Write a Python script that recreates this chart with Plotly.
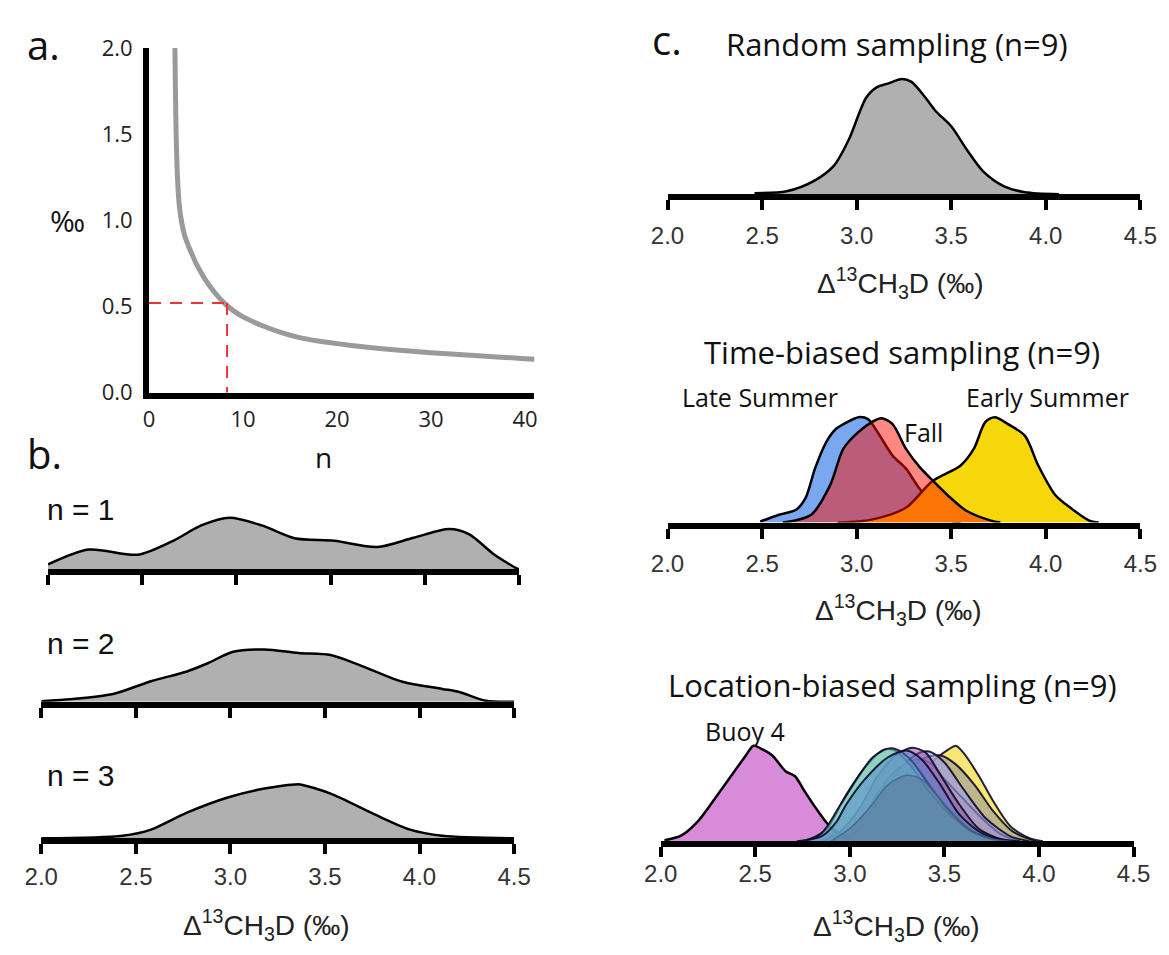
import plotly.graph_objects as go

W, H = 1169, 955

# ---------------- Panel a: precision vs n ----------------
a_n = [2.75, 2.8, 2.85, 2.9, 3.0, 3.1, 3.25, 3.5, 3.8, 4.2, 4.6, 5.0, 5.5, 6, 7, 8, 9, 10, 12, 14,
       16, 18, 20, 23, 26, 30, 35, 40, 41]
a_val = [2.0, 1.78, 1.6, 1.45, 1.28, 1.17, 1.07, 0.98, 0.91, 0.85, 0.80, 0.75, 0.70, 0.655, 0.58,
         0.52, 0.475, 0.44, 0.39, 0.35, 0.32, 0.30, 0.285, 0.265, 0.25, 0.232, 0.215, 0.198, 0.195]
crit_n = 8.3
crit_val = 0.52
a_xticks = [0, 10, 20, 30, 40]
a_yticks = [0.0, 0.5, 1.0, 1.5, 2.0]

# ---------------- Panel b: densities for n = 1, 2, 3 ----------------
b1_x = [2.0, 2.215, 2.478, 2.664, 2.813, 2.963, 3.135, 3.308, 3.52, 3.748, 3.94, 4.13, 4.234, 4.37, 4.49, 4.5]
b1_y = [0.09, 0.38, 0.28, 0.55, 0.85, 1.0, 0.85, 0.60, 0.55, 0.43, 0.61, 0.78, 0.68, 0.28, 0.01, 0.0]
b2_x = [2.0, 2.21, 2.38, 2.58, 2.77, 2.88, 3.01, 3.18, 3.36, 3.53, 3.68, 3.91, 4.12, 4.21, 4.35, 4.5]
b2_y = [0.01, 0.07, 0.15, 0.40, 0.59, 0.75, 0.97, 1.02, 0.95, 0.91, 0.72, 0.39, 0.25, 0.19, 0.02, 0.0]
b3_x = [2.0, 2.43, 2.58, 2.77, 2.99, 3.18, 3.34, 3.37, 3.53, 3.76, 3.95, 4.12, 4.5]
b3_y = [0.0, 0.05, 0.17, 0.50, 0.80, 0.97, 1.05, 1.05, 0.87, 0.47, 0.17, 0.05, 0.0]
b_labels = ["n = 1", "n = 2", "n = 3"]

# ---------------- Panel c: sampling scenarios ----------------
c_ticks = [2.0, 2.5, 3.0, 3.5, 4.0, 4.5]
rand_x = [2.46, 2.63, 2.77, 2.88, 2.96, 3.05, 3.11, 3.16, 3.24, 3.29, 3.36, 3.42, 3.5, 3.58, 3.67, 3.78, 3.89, 4.07]
rand_y = [0.01, 0.03, 0.13, 0.29, 0.56, 0.98, 1.09, 1.12, 1.17, 1.14, 0.99, 0.84, 0.69, 0.46, 0.23, 0.08, 0.02, 0.0]

late_x = [2.49, 2.59, 2.68, 2.73, 2.78, 2.84, 2.89, 2.95, 3.01, 3.06, 3.11, 3.19, 3.26, 3.33, 3.43, 3.5, 3.55]
late_y = [0.01, 0.08, 0.13, 0.25, 0.55, 0.82, 0.95, 1.02, 1.07, 1.05, 0.92, 0.68, 0.55, 0.35, 0.12, 0.02, 0.0]
fall_x = [2.61, 2.76, 2.86, 2.93, 3.01, 3.08, 3.13, 3.19, 3.26, 3.33, 3.40, 3.48, 3.58, 3.71, 3.76]
fall_y = [0.0, 0.08, 0.38, 0.75, 0.92, 1.02, 1.06, 1.0, 0.75, 0.57, 0.43, 0.28, 0.12, 0.02, 0.0]
early_x = [2.9, 3.08, 3.26, 3.40, 3.55, 3.62, 3.68, 3.73, 3.80, 3.89, 3.96, 4.05, 4.13, 4.23, 4.28]
early_y = [0.0, 0.03, 0.15, 0.42, 0.58, 0.75, 1.02, 1.07, 1.0, 0.88, 0.58, 0.28, 0.15, 0.02, 0.0]

buoy4_x = [2.02, 2.11, 2.2, 2.3, 2.39, 2.45, 2.49, 2.53, 2.59, 2.66, 2.71, 2.76, 2.83, 2.9, 3.0, 3.11]
buoy4_y = [0.01, 0.06, 0.21, 0.47, 0.71, 0.87, 0.97, 0.94, 0.87, 0.71, 0.66, 0.51, 0.31, 0.14, 0.02, 0.0]
loc_names = ["Buoy A", "Buoy B", "Buoy C", "Buoy D", "Buoy E", "Buoy F", "Buoy G", "Buoy H"]
loc_x = [
    [3.0, 3.15, 3.25, 3.35, 3.45, 3.52, 3.56, 3.6, 3.68, 3.76, 3.85, 3.95, 4.02],
    [2.95, 3.1, 3.2, 3.3, 3.4, 3.48, 3.56, 3.66, 3.76, 3.86, 3.98],
    [2.9, 3.05, 3.15, 3.25, 3.35, 3.42, 3.5, 3.6, 3.7, 3.8, 3.9],
    [2.95, 3.05, 3.15, 3.25, 3.35, 3.42, 3.5, 3.6, 3.72, 3.85, 3.95],
    [2.85, 2.95, 3.05, 3.15, 3.25, 3.33, 3.4, 3.48, 3.58, 3.68, 3.8, 3.9],
    [2.78, 2.88, 2.98, 3.08, 3.18, 3.24, 3.32, 3.42, 3.55, 3.7, 3.82],
    [2.75, 2.85, 2.95, 3.05, 3.12, 3.2, 3.25, 3.32, 3.42, 3.52, 3.62, 3.72, 3.85],
    [2.72, 2.85, 2.93, 2.98, 3.08, 3.2, 3.3, 3.38, 3.48, 3.58, 3.7, 3.85],
]
loc_y = [
    [0.0, 0.13, 0.37, 0.63, 0.83, 0.93, 0.97, 0.9, 0.67, 0.4, 0.15, 0.03, 0.0],
    [0.0, 0.17, 0.43, 0.7, 0.85, 0.87, 0.78, 0.57, 0.3, 0.1, 0.0],
    [0.0, 0.2, 0.5, 0.73, 0.83, 0.8, 0.63, 0.43, 0.23, 0.07, 0.0],
    [0.0, 0.13, 0.4, 0.7, 0.88, 0.91, 0.8, 0.53, 0.23, 0.05, 0.0],
    [0.0, 0.1, 0.33, 0.67, 0.88, 0.95, 0.9, 0.67, 0.37, 0.13, 0.02, 0.0],
    [0.0, 0.13, 0.47, 0.75, 0.93, 0.92, 0.77, 0.5, 0.23, 0.05, 0.0],
    [0.0, 0.08, 0.37, 0.67, 0.85, 0.94, 0.93, 0.83, 0.57, 0.32, 0.13, 0.04, 0.0],
    [0.0, 0.05, 0.2, 0.37, 0.63, 0.85, 0.92, 0.83, 0.57, 0.27, 0.08, 0.0],
]
loc_colors = ["rgba(246,226,90,0.85)", "rgba(165,160,150,0.7)", "rgba(176,128,112,0.55)",
              "rgba(160,160,240,0.6)", "rgba(150,80,160,0.55)", "rgba(110,185,130,0.55)",
              "rgba(120,205,195,0.6)", "rgba(80,130,210,0.5)"]

inner_x = [2.9, 3.0, 3.1, 3.2, 3.3, 3.38, 3.46, 3.55, 3.65, 3.75, 3.85]
inner_y = [0.0, 0.13, 0.33, 0.57, 0.67, 0.63, 0.47, 0.27, 0.1, 0.02, 0.0]

AXIS_TITLE = "Δ<sup>13</sup>CH<sub>3</sub>D (‰)"


def px_x(p):
    return p / W


def px_y(p):
    return 1 - p / H


fig = go.Figure()
SPL = dict(shape="spline", smoothing=0.8)

# ---------- panel a ----------
fig.add_trace(go.Scatter(x=a_n, y=a_val, mode="lines",
                         line=dict(color="#9a9a9a", width=5, shape="spline", smoothing=0.5),
                         xaxis="x", yaxis="y", hoverinfo="skip"))
fig.add_trace(go.Scatter(x=[0, crit_n], y=[crit_val, crit_val], mode="lines",
                         line=dict(color="#ee3333", width=2, dash="12px,9px"), xaxis="x", yaxis="y"))
fig.add_trace(go.Scatter(x=[crit_n, crit_n], y=[crit_val, 0], mode="lines",
                         line=dict(color="#ee3333", width=2, dash="12px,9px"), xaxis="x", yaxis="y"))

# ---------- panel b ----------
for i, (xs, ys) in enumerate([(b1_x, b1_y), (b2_x, b2_y), (b3_x, b3_y)]):
    k = i + 2
    fig.add_trace(go.Scatter(x=xs, y=ys, mode="lines", fill="tozeroy", fillcolor="#b0b0b0",
                             line=dict(color="black", width=2.5, **SPL),
                             xaxis=f"x{k}", yaxis=f"y{k}"))

# ---------- panel c ----------
fig.add_trace(go.Scatter(x=rand_x, y=rand_y, mode="lines", fill="tozeroy", fillcolor="#b0b0b0",
                         line=dict(color="black", width=2.5, **SPL), xaxis="x5", yaxis="y5"))

fig.add_trace(go.Scatter(x=late_x, y=late_y, mode="lines", fill="tozeroy", fillcolor="#79a7f0",
                         line=dict(color="black", width=2.5, **SPL), xaxis="x6", yaxis="y6"))
fig.add_trace(go.Scatter(x=early_x, y=early_y, mode="lines", fill="tozeroy", fillcolor="#f6d80a",
                         line=dict(color="black", width=2.5, **SPL), xaxis="x6", yaxis="y6"))
fig.add_trace(go.Scatter(x=fall_x, y=fall_y, mode="lines", fill="tozeroy", fillcolor="rgba(255,14,0,0.49)",
                         line=dict(color="black", width=2.5, **SPL), xaxis="x6", yaxis="y6"))

fig.add_trace(go.Scatter(x=buoy4_x, y=buoy4_y, mode="lines", fill="tozeroy", fillcolor="#d88bd9",
                         line=dict(color="black", width=2.5, **SPL), xaxis="x7", yaxis="y7"))
for xs, ys, col in zip(loc_x, loc_y, loc_colors):
    fig.add_trace(go.Scatter(x=xs, y=ys, mode="lines", fill="tozeroy", fillcolor=col,
                             line=dict(color="rgba(10,10,40,0.9)", width=2, **SPL),
                             xaxis="x7", yaxis="y7"))
fig.add_trace(go.Scatter(x=inner_x, y=inner_y, mode="lines", fill="tozeroy", fillcolor="rgba(90,120,150,0.5)",
                         line=dict(color="rgba(60,100,140,0.8)", width=1.5, **SPL),
                         xaxis="x7", yaxis="y7"))

# ---------- axes ----------
layout = dict(
    width=W, height=H, margin=dict(l=0, r=0, t=0, b=0),
    paper_bgcolor="white", plot_bgcolor="rgba(0,0,0,0)", showlegend=False,
)

tickfont_a = dict(family="Open Sans", size=22, color="#222")
layout["xaxis"] = dict(domain=[px_x(136), px_x(533)], range=[0, 41], anchor="y",
                       showline=True, linewidth=6, linecolor="black", showgrid=False, zeroline=False,
                       tickvals=a_xticks, ticks="", tickfont=tickfont_a, ticklabelstandoff=2)
layout["yaxis"] = dict(domain=[px_y(389), px_y(33)], range=[0, 2.0], anchor="x",
                       showline=True, linewidth=6, linecolor="black", showgrid=False, zeroline=False,
                       tickvals=a_yticks, tickformat=".1f", ticks="", tickfont=tickfont_a, ticklabelstandoff=6)

tickfont_bc = dict(family="Liberation Sans", size=24, color="#333")
ctext = [f"{v:.1f}" for v in c_ticks]


def dens_axes(k, xdom, base, top, yr, labels, standoff):
    layout[f"xaxis{k}"] = dict(domain=[px_x(xdom[0]), px_x(xdom[1])], range=[2.0, 4.5], anchor=f"y{k}",
                               showline=True, linewidth=6, linecolor="black", showgrid=False, zeroline=False,
                               tickvals=c_ticks, ticktext=ctext, ticks="outside", ticklen=10, tickwidth=4,
                               tickcolor="black", showticklabels=labels, tickfont=tickfont_bc,
                               ticklabelstandoff=standoff)
    layout[f"yaxis{k}"] = dict(domain=[px_y(base), px_y(top)], range=[0, yr], anchor=f"x{k}", visible=False)


b_scale = 53.0   # px per density unit (panel b)
c_scale = 101.7  # px per density unit (panel c)
dens_axes(2, (32, 517), 571, 506, 65 / b_scale, False, 0)
dens_axes(3, (25, 512), 708, 643, 65 / b_scale, False, 0)
dens_axes(4, (25, 512), 849, 784, 65 / b_scale, True, 2)
dens_axes(5, (670, 1157), 184, 54, 130 / c_scale, True, 5)
dens_axes(6, (670, 1157), 523, 393, 130 / c_scale, True, 5)
dens_axes(7, (663, 1150), 852, 722, 130 / c_scale, True, -4)

fig.update_layout(**layout)

# ---------- text ----------
ann = []


def txt(x, y, s, size, family="Open Sans", color="#111", xanchor="center"):
    ann.append(dict(x=px_x(x), y=px_y(y), xref="paper", yref="paper", text=s, showarrow=False,
                    xanchor=xanchor, yanchor="middle", font=dict(family=family, size=size, color=color)))


txt(8, 29, "a.", 40, xanchor="left")
txt(8, 452, "b.", 40, xanchor="left")
txt(652, 24, "c.", 40, xanchor="left")
txt(52, 211, "‰", 30)
txt(316, 455, "n", 28)
for lab, yy in zip(b_labels, [509, 648, 784]):
    txt(29, yy, lab, 30, family="Liberation Sans", xanchor="left")
txt(257, 938, AXIS_TITLE, 28, family="Liberation Sans", color="#222")
txt(906, 29, "Random sampling (n=9)", 31)
txt(910, 276, AXIS_TITLE, 28, family="Liberation Sans", color="#222")
txt(912, 347, "Time-biased sampling (n=9)", 31)
txt(765, 393, "Late Summer", 25)
txt(1061, 393, "Early Summer", 25)
txt(934, 430, "Fall", 25)
txt(908, 613, AXIS_TITLE, 28, family="Liberation Sans", color="#222")
txt(902, 691, "Location-biased sampling (n=9)", 31)
txt(750, 738, "Buoy 4", 25)
txt(906, 940, AXIS_TITLE, 28, family="Liberation Sans", color="#222")

fig.update_layout(annotations=ann)
fig.write_html("out.html")
